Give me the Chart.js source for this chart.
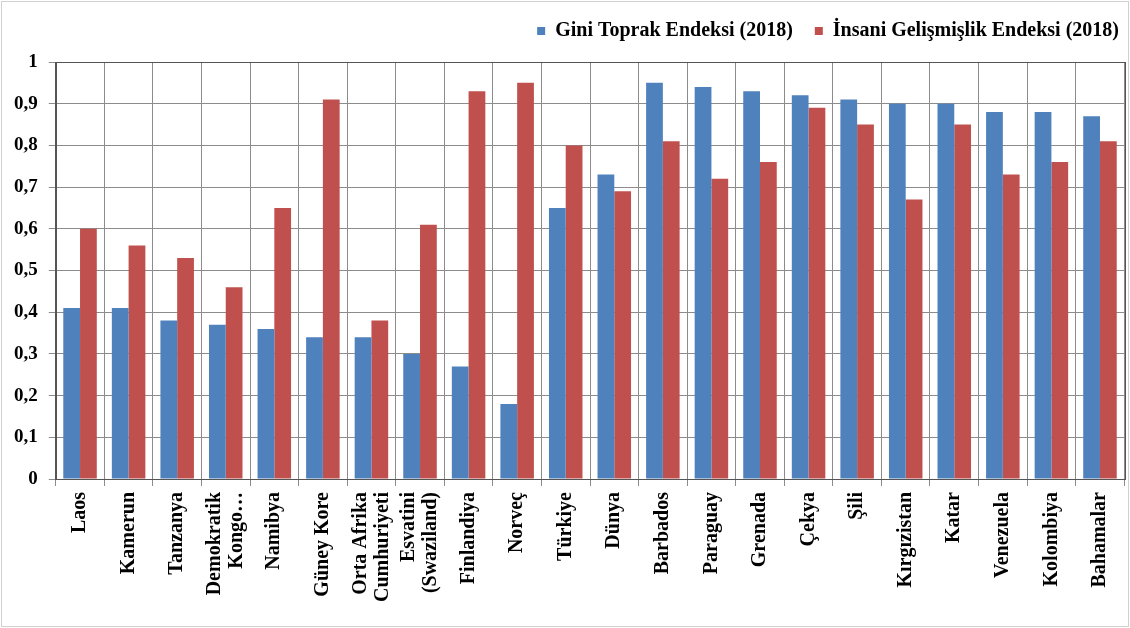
<!DOCTYPE html>
<html lang="tr">
<head>
    <meta charset="UTF-8">
    <title>Gini Toprak Endeksi ve İnsani Gelişmişlik Endeksi</title>
    <script src="https://cdn.jsdelivr.net/npm/chart.js"></script>
    <style>
        html, body { margin: 0; padding: 0; background: #fff; }
        .frame {
            width: 1126px;
            height: 624px;
            border: 1px solid #d0d0d0;
            margin: 1px;
        }
    </style>
</head>
<body>
    <div class="frame">
        <canvas id="myChart" width="1126" height="624"></canvas>
    </div>

    <script>
        // Countries (x axis)
        var countries = [
            'Laos', 'Kamerun', 'Tanzanya', ['Demokratik', 'Kongo…'], 'Namibya', 'Güney Kore',
            ['Orta Afrika', 'Cumhuriyeti'], ['Esvatini', '(Swaziland)'], 'Finlandiya', 'Norveç',
            'Türkiye', 'Dünya', 'Barbados', 'Paraguay', 'Grenada', 'Çekya', 'Şili',
            'Kırgızistan', 'Katar', 'Venezuela', 'Kolombiya', 'Bahamalar'
        ];
        // Gini Toprak Endeksi (2018)
        var giniValues = [0.41, 0.41, 0.38, 0.37, 0.36, 0.34, 0.34, 0.30, 0.27, 0.18,
                          0.65, 0.73, 0.95, 0.94, 0.93, 0.92, 0.91, 0.90, 0.90, 0.88, 0.88, 0.87];
        // İnsani Gelişmişlik Endeksi (2018)
        var hdiValues = [0.60, 0.56, 0.53, 0.46, 0.65, 0.91, 0.38, 0.61, 0.93, 0.95,
                         0.80, 0.69, 0.81, 0.72, 0.76, 0.89, 0.85, 0.67, 0.85, 0.73, 0.76, 0.81];
        var seriesNames = ['Gini Toprak Endeksi (2018)', 'İnsani Gelişmişlik Endeksi (2018)'];

        var fontFamily = '"Liberation Serif", "Times New Roman", serif';

        // dark frame around the plot area (top and right edges)
        var plotFrame = {
            id: 'plotFrame',
            afterDraw: function(chart) {
                var a = chart.chartArea;
                var ctx = chart.ctx;
                ctx.save();
                ctx.strokeStyle = '#555555';
                ctx.lineWidth = 1;
                ctx.strokeRect(Math.round(a.left) + 0.5, Math.round(a.top) + 0.5,
                               Math.round(a.right - a.left), Math.round(a.bottom - a.top));
                ctx.restore();
            }
        };

        // nudge the legend up/right and center two-line x labels on their tick
        var tweaks = {
            id: 'tweaks',
            afterLayout: function(chart) {
                var lg = chart.legend;
                lg.top -= 11; lg.bottom -= 11;
                lg.left += 14; lg.right += 14;
            },
            beforeDraw: function(chart) {
                var sx = chart.scales.x;
                var items = sx.getLabelItems();
                items.forEach(function(item) {
                    if (Array.isArray(item.label) && item.label.length > 1) {
                        item.textOffset -= (item.label.length - 1) * item.font.lineHeight / 2;
                    }
                });
            }
        };

        var ctx = document.getElementById('myChart').getContext('2d');
        var myChart = new Chart(ctx, {
            type: 'bar',
            data: {
                labels: countries,
                datasets: [{
                    label: seriesNames[0],
                    data: giniValues,
                    backgroundColor: '#4F81BD',
                    categoryPercentage: 0.69,
                    barPercentage: 1.0
                }, {
                    label: seriesNames[1],
                    data: hdiValues,
                    backgroundColor: '#C0504D',
                    categoryPercentage: 0.69,
                    barPercentage: 1.0
                }]
            },
            options: {
                responsive: false,
                animation: false,
                layout: {
                    padding: { left: 1, right: 1, top: 8, bottom: 18 }
                },
                plugins: {
                    legend: {
                        position: 'top',
                        align: 'end',
                        labels: {
                            boxWidth: 8,
                            boxHeight: 8,
                            padding: 22,
                            color: '#000',
                            font: { family: fontFamily, size: 20, weight: 'bold' }
                        }
                    },
                    tooltip: { enabled: false }
                },
                scales: {
                    x: {
                        grid: {
                            color: '#8c8c8c',
                            tickLength: 7,
                            offset: true
                        },
                        border: { color: '#555555' },
                        ticks: {
                            color: '#000',
                            minRotation: 90,
                            maxRotation: 90,
                            autoSkip: false,
                            padding: 6,
                            font: { family: fontFamily, size: 20, weight: 'bold', lineHeight: 1.1 }
                        }
                    },
                    y: {
                        min: 0,
                        max: 1,
                        grid: {
                            color: '#8c8c8c',
                            tickLength: 7
                        },
                        border: { color: '#555555' },
                        ticks: {
                            stepSize: 0.1,
                            color: '#000',
                            padding: 11,
                            font: { family: fontFamily, size: 19, weight: 'bold' },
                            callback: function(value) {
                                var v = Math.round(value * 10) / 10;
                                if (v === 0 || v === 1) return String(v);
                                return v.toFixed(1).replace('.', ',');
                            }
                        }
                    }
                }
            },
            plugins: [plotFrame, tweaks]
        });
    </script>
</body>
</html>
